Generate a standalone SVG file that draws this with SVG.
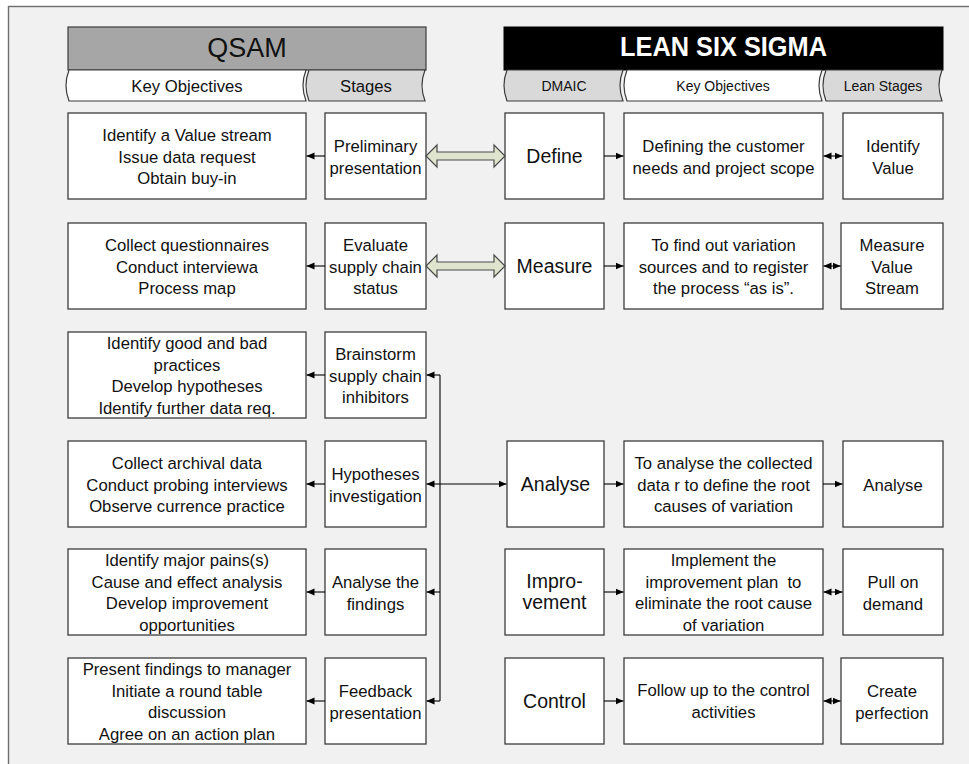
<svg xmlns="http://www.w3.org/2000/svg" width="969" height="764" viewBox="0 0 969 764">
<style>
.bx{fill:#fff;stroke:#3c3c3c;stroke-width:1.3}
.t{font-family:"Liberation Sans",Arial,sans-serif;font-size:16.7px;fill:#111;text-anchor:middle}
.tb{font-family:"Liberation Sans",Arial,sans-serif;font-size:19.5px;fill:#111;text-anchor:middle}
.tab{stroke:#3c3c3c;stroke-width:1.2}
.ln{stroke:#000;stroke-width:1.1;fill:none}
.blk{fill:#dfe4cf;stroke:#4a4a4a;stroke-width:1.2}
</style>
<defs>
<marker id="ah" markerUnits="userSpaceOnUse" markerWidth="8" markerHeight="8" refX="8" refY="4" orient="auto-start-reverse">
<path d="M0,0.5 L8,4 L0,7.5 z" fill="#000"/>
</marker>
</defs>
<rect x="0" y="0" width="969" height="764" fill="#fff"/>
<rect x="8.5" y="6.5" width="1000" height="800" fill="#f1f1f1" stroke="#6e6e6e" stroke-width="1.4"/>

<g id="qsam-header">
<rect x="68" y="27" width="358" height="43" fill="#a6a6a6" stroke="#3c3c3c" stroke-width="1.2"/>
<text x="247" y="57" font-family="Liberation Sans, Arial, sans-serif" font-size="27" text-anchor="middle" fill="#111">QSAM</text>
</g>
<g id="qsam-tab-ko">
<path class="tab" fill="#fff" d="M69,70 Q63,85.5 69,101 L306,101 Q300,85.5 306,70 Z"/>
<text class="t" x="187" y="92">Key Objectives</text>
</g>
<g id="qsam-tab-stages">
<path class="tab" fill="#d9d9d9" d="M309,70 Q303,85.5 309,101 L425,101 Q419,85.5 425,70 Z"/>
<text class="t" x="366" y="92">Stages</text>
</g>

<g id="lss-header">
<rect x="504" y="27" width="439" height="43" fill="#000" stroke="#000" stroke-width="1"/>
<text x="723.5" y="56" font-family="Liberation Sans, Arial, sans-serif" font-size="27" font-weight="bold" text-anchor="middle" fill="#fff" textLength="207" lengthAdjust="spacingAndGlyphs">LEAN SIX SIGMA</text>
</g>
<g id="lss-tab-dmaic">
<path class="tab" fill="#d9d9d9" d="M507,70 Q501,85.5 507,101 L623,101 Q617,85.5 623,70 Z"/>
<text x="564" y="91" font-family="Liberation Sans, Arial, sans-serif" font-size="14" text-anchor="middle" fill="#111">DMAIC</text>
</g>
<g id="lss-tab-ko">
<path class="tab" fill="#fff" d="M627,70 Q621,85.5 627,101 L822,101 Q816,85.5 822,70 Z"/>
<text x="723" y="91" font-family="Liberation Sans, Arial, sans-serif" font-size="14" text-anchor="middle" fill="#111">Key Objectives</text>
</g>
<g id="lss-tab-lean">
<path class="tab" fill="#d9d9d9" d="M826,70 Q820,85.5 826,101 L942,101 Q936,85.5 942,70 Z"/>
<text x="883" y="91" font-family="Liberation Sans, Arial, sans-serif" font-size="14" text-anchor="middle" fill="#111">Lean Stages</text>
</g>

<!-- QSAM key objectives -->
<g id="ko1"><rect class="bx" x="68" y="113" width="238" height="86"/>
<text class="t" x="187" y="141">Identify a Value stream</text><text class="t" x="187" y="162.5">Issue data request</text><text class="t" x="187" y="184">Obtain buy-in</text></g>
<g id="ko2"><rect class="bx" x="68" y="223" width="238" height="86"/>
<text class="t" x="187" y="251">Collect questionnaires</text><text class="t" x="187" y="272.5">Conduct interviewa</text><text class="t" x="187" y="294">Process map</text></g>
<g id="ko3"><rect class="bx" x="68" y="332" width="238" height="86"/>
<text class="t" x="187" y="349">Identify good and bad</text><text class="t" x="187" y="370.5">practices</text><text class="t" x="187" y="392">Develop hypotheses</text><text class="t" x="187" y="413.5">Identify further data req.</text></g>
<g id="ko4"><rect class="bx" x="68" y="441" width="238" height="86"/>
<text class="t" x="187" y="469">Collect archival data</text><text class="t" x="187" y="490.5">Conduct probing interviews</text><text class="t" x="187" y="512">Observe currence practice</text></g>
<g id="ko5"><rect class="bx" x="68" y="549" width="238" height="86"/>
<text class="t" x="187" y="566">Identify major pains(s)</text><text class="t" x="187" y="587.5">Cause and effect analysis</text><text class="t" x="187" y="609">Develop improvement</text><text class="t" x="187" y="630.5">opportunities</text></g>
<g id="ko6"><rect class="bx" x="68" y="658" width="238" height="86"/>
<text class="t" x="187" y="675">Present findings to manager</text><text class="t" x="187" y="696.5">Initiate a round table</text><text class="t" x="187" y="718">discussion</text><text class="t" x="187" y="739.5">Agree on an action plan</text></g>

<!-- QSAM stages -->
<g id="st1"><rect class="bx" x="325" y="113" width="101" height="86"/>
<text class="t" x="375.5" y="152">Preliminary</text><text class="t" x="375.5" y="173.5">presentation</text></g>
<g id="st2"><rect class="bx" x="325" y="223" width="101" height="86"/>
<text class="t" x="375.5" y="251">Evaluate</text><text class="t" x="375.5" y="272.5">supply chain</text><text class="t" x="375.5" y="294">status</text></g>
<g id="st3"><rect class="bx" x="325" y="332" width="101" height="86"/>
<text class="t" x="375.5" y="360">Brainstorm</text><text class="t" x="375.5" y="381.5">supply chain</text><text class="t" x="375.5" y="403">inhibitors</text></g>
<g id="st4"><rect class="bx" x="325" y="441" width="101" height="86"/>
<text class="t" x="375.5" y="480">Hypotheses</text><text class="t" x="375.5" y="501.5">investigation</text></g>
<g id="st5"><rect class="bx" x="325" y="549" width="101" height="86"/>
<text class="t" x="375.5" y="588">Analyse the</text><text class="t" x="375.5" y="609.5">findings</text></g>
<g id="st6"><rect class="bx" x="325" y="658" width="101" height="86"/>
<text class="t" x="375.5" y="697">Feedback</text><text class="t" x="375.5" y="718.5">presentation</text></g>

<!-- DMAIC -->
<g id="dm1"><rect class="bx" x="505" y="113" width="99" height="86"/><text class="tb" x="554.5" y="163">Define</text></g>
<g id="dm2"><rect class="bx" x="505" y="223" width="99" height="86"/><text class="tb" x="554.5" y="272.5">Measure</text></g>
<g id="dm3"><rect class="bx" x="507" y="441" width="97" height="86"/><text class="tb" x="555.5" y="491">Analyse</text></g>
<g id="dm4"><rect class="bx" x="505" y="549" width="99" height="86"/><text class="tb" x="554.5" y="587.5">Impro-</text><text class="tb" x="554.5" y="609">vement</text></g>
<g id="dm5"><rect class="bx" x="505" y="658" width="99" height="86"/><text class="tb" x="554.5" y="708">Control</text></g>

<!-- LSS key objectives -->
<g id="lko1"><rect class="bx" x="624" y="113" width="199" height="86"/>
<text class="t" x="723.5" y="152">Defining the customer</text><text class="t" x="723.5" y="173.5">needs and project scope</text></g>
<g id="lko2"><rect class="bx" x="624" y="223" width="199" height="86"/>
<text class="t" x="723.5" y="251">To find out variation</text><text class="t" x="723.5" y="272.5">sources and to register</text><text class="t" x="723.5" y="294">the process “as is”.</text></g>
<g id="lko3"><rect class="bx" x="624" y="441" width="199" height="86"/>
<text class="t" x="723.5" y="469">To analyse the collected</text><text class="t" x="723.5" y="490.5">data r to define the root</text><text class="t" x="723.5" y="512">causes of variation</text></g>
<g id="lko4"><rect class="bx" x="624" y="549" width="199" height="86"/>
<text class="t" x="723.5" y="566">Implement the</text><text class="t" x="723.5" y="587.5" style="white-space:pre" xml:space="preserve">improvement plan  to</text><text class="t" x="723.5" y="609">eliminate the root cause</text><text class="t" x="723.5" y="630.5">of variation</text></g>
<g id="lko5"><rect class="bx" x="624" y="658" width="199" height="86"/>
<text class="t" x="723.5" y="696">Follow up to the control</text><text class="t" x="723.5" y="717.5">activities</text></g>

<!-- Lean stages -->
<g id="ls1"><rect class="bx" x="843" y="113" width="100" height="86"/>
<text class="t" x="893" y="152">Identify</text><text class="t" x="893" y="173.5">Value</text></g>
<g id="ls2"><rect class="bx" x="841" y="223" width="102" height="86"/>
<text class="t" x="892" y="251">Measure</text><text class="t" x="892" y="272.5">Value</text><text class="t" x="892" y="294">Stream</text></g>
<g id="ls3"><rect class="bx" x="843" y="441" width="100" height="86"/>
<text class="t" x="893" y="490.5">Analyse</text></g>
<g id="ls4"><rect class="bx" x="843" y="549" width="100" height="86"/>
<text class="t" x="893" y="588">Pull on</text><text class="t" x="893" y="609.5">demand</text></g>
<g id="ls5"><rect class="bx" x="841" y="658" width="102" height="86"/>
<text class="t" x="892" y="697">Create</text><text class="t" x="892" y="718.5">perfection</text></g>

<g id="connectors">
<line class="ln" x1="325" y1="156" x2="306.5" y2="156" marker-end="url(#ah)"/>
<line class="ln" x1="325" y1="266" x2="306.5" y2="266" marker-end="url(#ah)"/>
<line class="ln" x1="325" y1="375" x2="306.5" y2="375" marker-end="url(#ah)"/>
<line class="ln" x1="325" y1="484" x2="306.5" y2="484" marker-end="url(#ah)"/>
<line class="ln" x1="325" y1="592" x2="306.5" y2="592" marker-end="url(#ah)"/>
<line class="ln" x1="325" y1="701" x2="306.5" y2="701" marker-end="url(#ah)"/>
<path class="blk" d="M426,156 L437,145 L437,152 L494,152 L494,145 L505,156 L494,167 L494,160 L437,160 L437,167 Z"/>
<path class="blk" d="M426,266 L437,255 L437,262 L494,262 L494,255 L505,266 L494,277 L494,270 L437,270 L437,277 Z"/>
<line class="ln" x1="440" y1="375" x2="440" y2="701"/>
<line class="ln" x1="440" y1="375" x2="426.5" y2="375" marker-end="url(#ah)"/>
<line class="ln" x1="440" y1="484" x2="426.5" y2="484" marker-end="url(#ah)"/>
<line class="ln" x1="440" y1="592" x2="426.5" y2="592" marker-end="url(#ah)"/>
<line class="ln" x1="440" y1="701" x2="426.5" y2="701" marker-end="url(#ah)"/>
<line class="ln" x1="440" y1="484" x2="506.5" y2="484" marker-end="url(#ah)"/>
<line class="ln" x1="604" y1="156" x2="623.5" y2="156" marker-end="url(#ah)"/>
<line class="ln" x1="604" y1="266" x2="623.5" y2="266" marker-end="url(#ah)"/>
<line class="ln" x1="604" y1="484" x2="623.5" y2="484" marker-end="url(#ah)"/>
<line class="ln" x1="604" y1="592" x2="623.5" y2="592" marker-end="url(#ah)"/>
<line class="ln" x1="604" y1="701" x2="623.5" y2="701" marker-end="url(#ah)"/>
<line class="ln" x1="823.5" y1="156" x2="842.5" y2="156" marker-start="url(#ah)" marker-end="url(#ah)"/>
<line class="ln" x1="823.5" y1="266" x2="840.5" y2="266" marker-start="url(#ah)" marker-end="url(#ah)"/>
<line class="ln" x1="823" y1="484" x2="842.5" y2="484" marker-end="url(#ah)"/>
<line class="ln" x1="823.5" y1="592" x2="842.5" y2="592" marker-start="url(#ah)" marker-end="url(#ah)"/>
<line class="ln" x1="823.5" y1="701" x2="840.5" y2="701" marker-start="url(#ah)" marker-end="url(#ah)"/>
</g>
</svg>
